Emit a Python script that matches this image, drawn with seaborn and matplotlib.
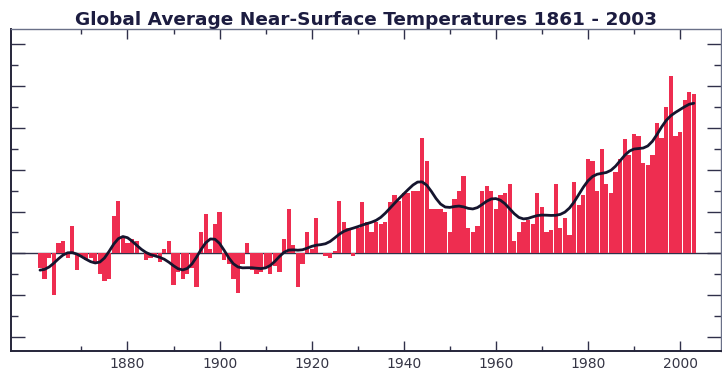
import numpy as np
import matplotlib
matplotlib.use("Agg")
import matplotlib.pyplot as plt
import seaborn as sns

# Annual global near-surface temperature anomalies (deg C), 1861-2003
years = list(range(1861, 2004))
anomalies = [
    -0.07, -0.12, -0.02, -0.20, 0.05, 0.06, -0.02, 0.13, -0.08, -0.01,   # 1861-1870
    -0.03, -0.02, -0.04, -0.10, -0.13, -0.12, 0.18, 0.25, 0.08, 0.05,    # 1871-1880
    0.07, 0.06, 0.00, -0.03, -0.02, -0.01, -0.04, 0.02, 0.06, -0.15,     # 1881-1890
    -0.09, -0.12, -0.10, -0.07, -0.16, 0.10, 0.19, 0.02, 0.14, 0.20,     # 1891-1900
    -0.03, -0.05, -0.12, -0.19, -0.05, 0.05, -0.08, -0.10, -0.09, -0.07, # 1901-1910
    -0.10, -0.06, -0.09, 0.07, 0.21, 0.04, -0.16, -0.05, 0.10, 0.02,     # 1911-1920
    0.17, 0.00, -0.01, -0.02, 0.01, 0.25, 0.15, 0.12, -0.01, 0.12,       # 1921-1930
    0.245, 0.15, 0.10, 0.15, 0.14, 0.15, 0.245, 0.28, 0.25, 0.29,        # 1931-1940
    0.29, 0.30, 0.30, 0.55, 0.44, 0.21, 0.21, 0.21, 0.20, 0.10,          # 1941-1950
    0.26, 0.30, 0.37, 0.12, 0.10, 0.13, 0.30, 0.32, 0.30, 0.21,          # 1951-1960
    0.28, 0.29, 0.33, 0.06, 0.10, 0.15, 0.16, 0.14, 0.29, 0.22,          # 1961-1970
    0.10, 0.11, 0.33, 0.12, 0.17, 0.09, 0.34, 0.23, 0.28, 0.45,          # 1971-1980
    0.44, 0.30, 0.50, 0.33, 0.29, 0.39, 0.45, 0.545, 0.47, 0.57,         # 1981-1990
    0.56, 0.43, 0.42, 0.47, 0.62, 0.55, 0.70, 0.845, 0.56, 0.58,         # 1991-2000
    0.73, 0.77, 0.76,                                                    # 2001-2003
]
title = "Global Average Near-Surface Temperatures 1861 - 2003"
xtick_years = [1880, 1900, 1920, 1940, 1960, 1980, 2000]

# 21-term binomial low-pass filter, mirrored at both ends
vals = np.array(anomalies, dtype=float)
half = 10
w = np.array([1.0])
for _ in range(2 * half):
    w = np.convolve(w, [0.5, 0.5])
padded = np.concatenate([vals[half:0:-1], vals, vals[-2:-half - 2:-1]])
smooth = np.convolve(padded, w, mode="valid")

sns.set_style("white")
plt.rcParams["font.family"] = ["DejaVu Sans"]

fig = plt.figure(figsize=(7.22, 3.74), dpi=100)
ax = fig.add_axes([11 / 722, 23 / 374, 710 / 722, 322 / 374])

ax.axhline(0, color="#30304a", lw=1.0, zorder=0)
sns.barplot(x=years, y=anomalies, native_scale=True, color="#ee2d50",
            saturation=1, width=0.92, errorbar=None, linewidth=0, ax=ax,
            zorder=2)
sns.lineplot(x=years, y=smooth, color="#15152e", lw=2.0, ax=ax, zorder=3)

ax.set_xlim(1854.7, 2008.9)
ax.set_ylim(-0.465, 1.07)

ax.set_xticks(xtick_years)
ax.set_xticklabels([str(y) for y in xtick_years])
ax.set_xticks(np.arange(1870, 2001, 20), minor=True)
ax.set_yticks(np.arange(-0.4, 1.01, 0.2))
ax.set_yticks(np.arange(-0.3, 1.0, 0.2), minor=True)

ax.tick_params(axis="x", which="major", direction="in", length=7, width=1,
               color="#30304a", top=True, bottom=True, labelsize=10,
               labelcolor="#353545", pad=4.5)
ax.tick_params(axis="x", which="minor", direction="in", length=3.5, width=1,
               color="#30304a", top=True, bottom=True)
ax.tick_params(axis="y", which="major", direction="in", length=10, width=1,
               color="#30304a", left=True, right=True, labelleft=False)
ax.tick_params(axis="y", which="minor", direction="in", length=5, width=1,
               color="#30304a", left=True, right=True)

for side in ("left", "bottom"):
    ax.spines[side].set_color("#25253a")
    ax.spines[side].set_linewidth(1.4)
for side in ("top", "right"):
    ax.spines[side].set_color("#6a7088")
    ax.spines[side].set_linewidth(1.0)

ax.set_xlabel("")
ax.set_ylabel("")
ax.set_title(title, fontsize=13.3, fontweight="bold", color="#1c1c40", pad=1.5)

fig.savefig("out.png", dpi=100, facecolor="white")
